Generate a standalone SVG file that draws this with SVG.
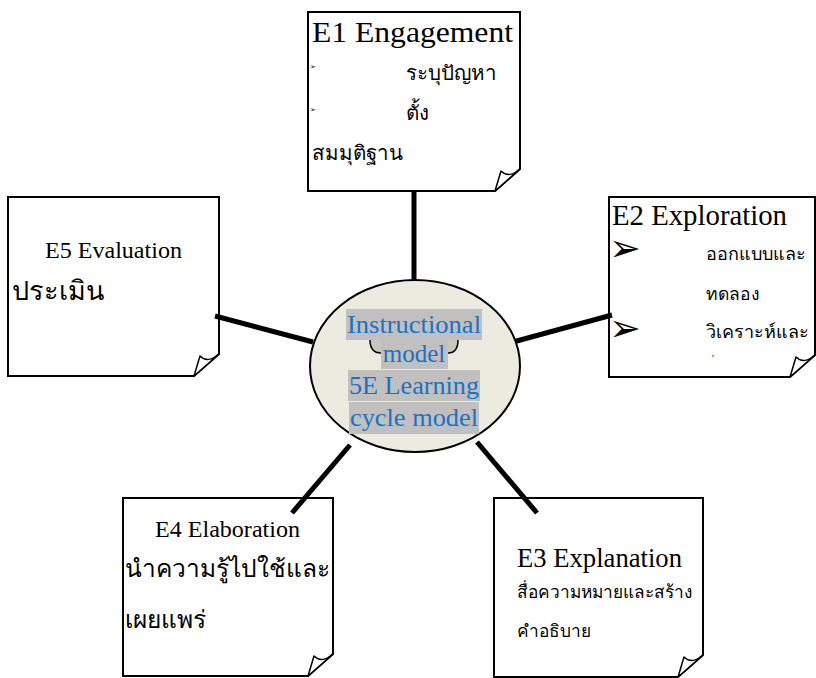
<svg xmlns="http://www.w3.org/2000/svg" width="816" height="678" viewBox="0 0 816 678">
<style>
.box{fill:#fff;stroke:#000;stroke-width:2;stroke-linejoin:miter}
.fold{fill:#fff;stroke:#000;stroke-width:1.5;stroke-linejoin:round}
.con{stroke:#000;stroke-width:5;stroke-linecap:butt}
.t{font-family:"Liberation Serif","Times New Roman",serif;fill:#000}
.th{font-family:"Liberation Serif","DejaVu Serif","Noto Sans",serif;fill:#000}
.bul{font-family:"DejaVu Sans",sans-serif;fill:#000}
.c{font-family:"Liberation Serif","Times New Roman",serif;fill:#1a73c2;font-size:25px;text-anchor:middle}
.hl{fill:#c0c0c0}
</style>
<defs>
<path id="fold" class="fold" d="M-25,0 L-19,-20 C-13,-14 -7,-16 0,-22 Z"/>
</defs>
<rect width="816" height="678" fill="#fff"/>
<g id="E1">
<path class="box" d="M308,12 H520 V169 L495,191 H308 Z"/>
<use href="#fold" x="520" y="191"/>
<text class="t" x="312" y="42" font-size="30" textLength="201" lengthAdjust="spacingAndGlyphs">E1 Engagement</text>
<text class="bul" x="310" y="69" font-size="7">➢</text>
<text class="bul" x="310" y="112" font-size="7">➢</text>
<text class="th" x="406" y="80" font-size="20.5">ระบุปัญหา</text>
<text class="th" x="406" y="120" font-size="20.5">ตั้ง</text>
<text class="th" x="312" y="160" font-size="20.5">สมมุติฐาน</text>
</g>
<g id="E2">
<path class="box" d="M609,197 H815 V355 L790,377 H609 Z"/>
<use href="#fold" x="815" y="377"/>
<text class="t" x="612" y="225" font-size="28.5" textLength="175" lengthAdjust="spacingAndGlyphs">E2 Exploration</text>
<text class="bul" x="609" y="261" font-size="38">➢</text>
<text class="bul" x="609" y="341" font-size="38">➢</text>
<text class="th" x="706" y="260" font-size="18">ออกแบบและ</text>
<text class="th" x="706" y="300" font-size="17.5">ทดลอง</text>
<text class="th" x="706" y="338" font-size="18">วิเคราะห์และ</text>
<text class="th" x="712" y="362" font-size="10">'</text>
</g>
<g id="E5">
<path class="box" d="M8,197 H219 V354 L194,376 H8 Z"/>
<use href="#fold" x="219" y="376"/>
<text class="t" x="45" y="258" font-size="23.5" textLength="137" lengthAdjust="spacingAndGlyphs">E5 Evaluation</text>
<text class="th" x="12" y="300" font-size="27">ประเมิน</text>
</g>
<g id="E4">
<path class="box" d="M123,498 H333 V654 L308,676 H123 Z"/>
<use href="#fold" x="333" y="676"/>
<text class="t" x="155" y="537" font-size="24" textLength="145" lengthAdjust="spacingAndGlyphs">E4 Elaboration</text>
<text class="th" x="125" y="577" font-size="24.5">นำความรู้ไปใช้และ</text>
<text class="th" x="125" y="628" font-size="24.5">เผยแพร่</text>
</g>
<g id="E3">
<path class="box" d="M494,498 H703 V655 L678,677 H494 Z"/>
<use href="#fold" x="703" y="677"/>
<text class="t" x="517" y="567" font-size="26.5" textLength="165" lengthAdjust="spacingAndGlyphs">E3 Explanation</text>
<text class="th" x="517" y="598" font-size="17.3">สื่อความหมายและสร้าง</text>
<text class="th" x="517" y="637" font-size="17.3">คำอธิบาย</text>
</g>
<g id="connectors">
<line class="con" x1="414" y1="192" x2="414" y2="282"/>
<line class="con" x1="513" y1="342" x2="612" y2="315"/>
<line class="con" x1="215" y1="316" x2="313" y2="342"/>
<line class="con" x1="350" y1="445" x2="292" y2="513"/>
<line class="con" x1="477" y1="442" x2="537" y2="513"/>
</g>
<g id="center">
<ellipse cx="415" cy="366" rx="105" ry="86" fill="#ecebe0" stroke="#000" stroke-width="2"/>
<rect class="hl" x="346" y="309" width="136" height="31"/>
<path d="M370,340 Q370,353 381,353 L381,340 Z M458,340 Q458,353 448,353 L448,340 Z" fill="#c8c6bc" stroke="none"/>
<path d="M370,340 Q370,353 381,353 M458,340 Q458,353 448,353" fill="none" stroke="#000" stroke-width="1.5"/>
<rect class="hl" x="381" y="340" width="67" height="29"/>
<rect class="hl" x="348" y="370" width="132" height="31"/>
<rect class="hl" x="349" y="402" width="130" height="32"/>
<text class="c" x="414" y="333" textLength="134" lengthAdjust="spacingAndGlyphs">Instructional</text>
<text class="c" x="414" y="362">model</text>
<text class="c" x="414" y="394" textLength="130" lengthAdjust="spacingAndGlyphs">5E Learning</text>
<text class="c" x="414" y="426" textLength="128" lengthAdjust="spacingAndGlyphs">cycle model</text>
</g>
</svg>
